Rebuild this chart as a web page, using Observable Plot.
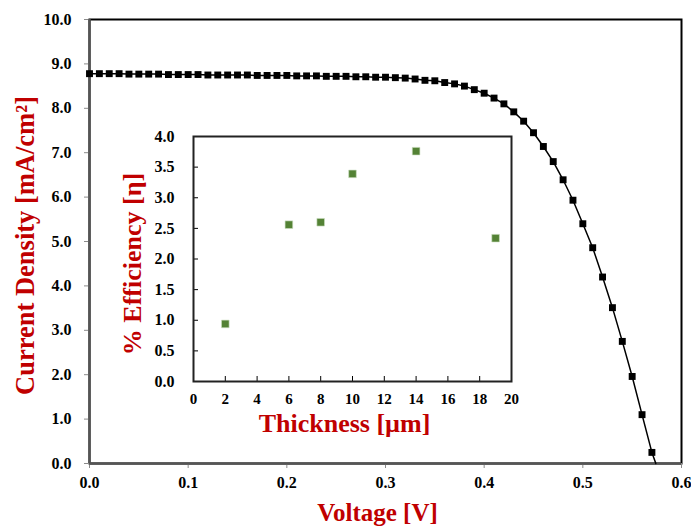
<!DOCTYPE html>
<html>
<head>
<meta charset="utf-8">
<script src="https://cdn.jsdelivr.net/npm/d3@7"></script>
<script src="https://cdn.jsdelivr.net/npm/@observablehq/plot@0.6"></script>
<style>
  html, body { margin: 0; padding: 0; background: #fff; }
  #wrap { position: relative; width: 691px; height: 528px; }
  #wrap svg { position: absolute; left: 0; top: 0; }
</style>
</head>
<body>
<div id="wrap"></div>
<script>
// Main J-V curve
const voltage = [0.00,0.01,0.02,0.03,0.04,0.05,0.06,0.07,0.08,0.09,0.10,0.11,0.12,0.13,0.14,0.15,0.16,0.17,0.18,0.19,0.20,0.21,0.22,0.23,0.24,0.25,0.26,0.27,0.28,0.29,0.30,0.31,0.32,0.33,0.34,0.35,0.36,0.37,0.38,0.39,0.40,0.41,0.42,0.43,0.44,0.45,0.46,0.47,0.48,0.49,0.50,0.51,0.52,0.53,0.54,0.55,0.56,0.57];
const current = [8.78,8.78,8.78,8.78,8.77,8.77,8.77,8.77,8.76,8.76,8.76,8.76,8.75,8.75,8.75,8.75,8.75,8.74,8.74,8.74,8.74,8.73,8.73,8.73,8.72,8.72,8.72,8.71,8.71,8.70,8.70,8.69,8.68,8.66,8.63,8.62,8.58,8.55,8.50,8.42,8.34,8.23,8.10,7.92,7.71,7.45,7.14,6.80,6.39,5.93,5.40,4.86,4.20,3.51,2.75,1.96,1.10,0.25];
const lineEndV = 0.574, lineEndJ = 0.0;
const xTicks = [0, 0.1, 0.2, 0.3, 0.4, 0.5, 0.6];
const yTicks = [0,1,2,3,4,5,6,7,8,9,10];

// Inset: efficiency vs thickness
const thickness = [2, 6, 8, 10, 14, 19];
const efficiency = [0.94, 2.56, 2.60, 3.39, 3.76, 2.34];
const inXTicks = [0,2,4,6,8,10,12,14,16,18,20];
const inYTicks = [0,0.5,1,1.5,2,2.5,3,3.5,4];

const font = "'Liberation Serif', 'Times New Roman', serif";
const red = "#c00000";

const rows = voltage.map((v, i) => ({v, j: current[i]}));
const lineRows = rows.concat([{v: lineEndV, j: lineEndJ}]);

const main = Plot.plot({
  width: 691, height: 528,
  marginLeft: 89, marginRight: 10, marginTop: 19, marginBottom: 65,
  style: {fontFamily: font, background: "transparent", color: "black"},
  x: {domain: [0, 0.6]},
  y: {domain: [0, 10]},
  marks: [
    Plot.frame({stroke: "black", strokeWidth: 2}),
    Plot.axisX({ticks: xTicks, tickFormat: d => d.toFixed(1), tickSize: 5, tickPadding: 8,
      fontSize: 16, fontWeight: "bold", stroke: "#8a8a8a", label: null}),
    Plot.axisY({ticks: yTicks, tickFormat: d => d.toFixed(1), tickSize: 5, tickPadding: 13,
      fontSize: 16, fontWeight: "bold", stroke: "#8a8a8a", label: null}),
    Plot.ruleX([0], {stroke: "#555", strokeWidth: 2.5}),
    Plot.ruleY([0], {stroke: "#555", strokeWidth: 2.5}),
    Plot.line(lineRows, {x: "v", y: "j", stroke: "black", strokeWidth: 1.5}),
    Plot.dot(rows, {x: "v", y: "j", symbol: "square", r: 3.9, fill: "black", stroke: "none"}),
    Plot.text(["Voltage [V]"], {frameAnchor: "bottom", textAnchor: "middle", lineAnchor: "middle",
      dx: -8, dy: 49, fill: red, fontSize: 25, fontWeight: "bold"}),
    Plot.text(["Current Density [mA/cm²]"], {frameAnchor: "left", textAnchor: "middle", lineAnchor: "middle",
      rotate: -90, dx: -64, dy: 4, fill: red, fontSize: 26.5, fontWeight: "bold"})
  ]
});

const inset = Plot.plot({
  width: 691, height: 528,
  marginLeft: 193, marginRight: 180, marginTop: 136, marginBottom: 147,
  style: {fontFamily: font, background: "transparent", color: "black"},
  x: {domain: [0, 20]},
  y: {domain: [0, 4]},
  marks: [
    Plot.frame({fill: "white", stroke: "none"}),
    Plot.tickY(inYTicks, {y: d => d, insetRight: 313, stroke: "black", strokeWidth: 1}),
    Plot.tickX(inXTicks, {x: d => d, insetTop: 240, stroke: "black", strokeWidth: 1}),
    Plot.frame({stroke: "#222", strokeWidth: 2}),
    Plot.axisX({ticks: inXTicks, tickFormat: d => String(d), tickSize: 0, tickPadding: 12,
      fontSize: 15, fontWeight: "bold", label: null}),
    Plot.axisY({ticks: inYTicks, tickFormat: d => d.toFixed(1), tickSize: 0, tickPadding: 19,
      fontSize: 16, fontWeight: "bold", label: null}),
    Plot.dot(thickness.map((t, i) => ({t, e: efficiency[i]})),
      {x: "t", y: "e", symbol: "square", r: 4.3, fill: "#548235", stroke: "#cfe0c4", strokeWidth: 0.6}),
    Plot.text(["Thickness [µm]"], {frameAnchor: "bottom", textAnchor: "middle", lineAnchor: "middle",
      dx: -8, dy: 42, fill: red, fontSize: 26, fontWeight: "bold"}),
    Plot.text(["% Efficiency [η]"], {frameAnchor: "left", textAnchor: "middle", lineAnchor: "middle",
      rotate: -90, dx: -61, dy: 5, fill: red, fontSize: 26, fontWeight: "bold"})
  ]
});

const wrap = document.getElementById("wrap");
wrap.appendChild(main);
wrap.appendChild(inset);
</script>
</body>
</html>
